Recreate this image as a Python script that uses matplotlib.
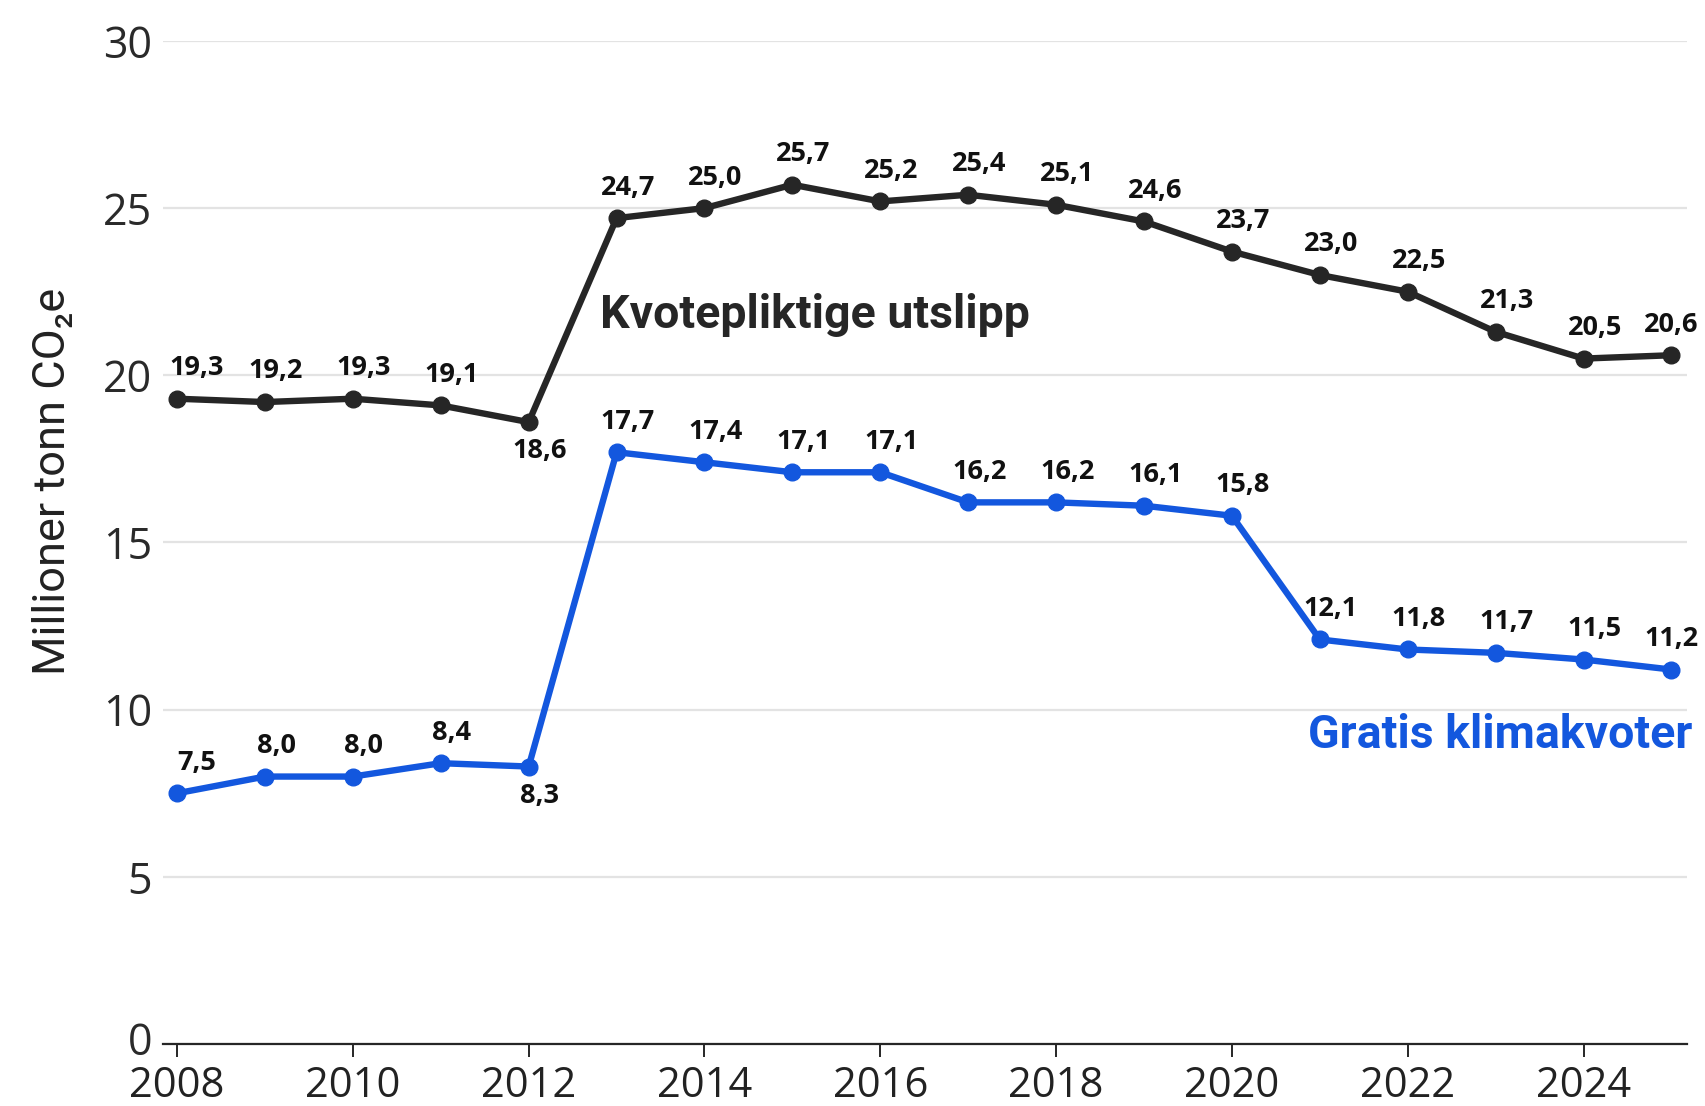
import numpy as np
import matplotlib.pyplot as plt
import matplotlib.transforms as mtransforms

# --- data ---
years = list(range(2008, 2026))
kvotepliktige = [19.3, 19.2, 19.3, 19.1, 18.6, 24.7, 25.0, 25.7, 25.2, 25.4,
                 25.1, 24.6, 23.7, 23.0, 22.5, 21.3, 20.5, 20.6]
gratis = [7.5, 8.0, 8.0, 8.4, 8.3, 17.7, 17.4, 17.1, 17.1, 16.2,
          16.2, 16.1, 15.8, 12.1, 11.8, 11.7, 11.5, 11.2]
y_ticks = [0, 5, 10, 15, 20, 25, 30]
x_ticks = list(range(2008, 2026, 2))

BLACK = '#262626'
BLUE = '#1357de'
FONT = 'Roboto'
TICKFONT = 'Open Sans'


def fmt(v):
    return f"{v:.1f}".replace('.', ',')


def label_points(ax, xs, ys, below=()):
    for i, (x, y) in enumerate(zip(xs, ys)):
        dx = 8
        if i == 0:
            dx = 14
        elif i == len(xs) - 1:
            dx = 0
        dy = -21 if x in below else 22
        ax.annotate(fmt(y), (x, y), xytext=(dx, dy), textcoords='offset points',
                    ha='center', va='center', fontsize=19.5, fontweight='bold',
                    family=TICKFONT, color='#111111', annotation_clip=False)


fig = plt.figure(figsize=(17.05, 11.06), dpi=100)
ax = fig.add_axes([0.0956, 0.056, 0.894, 0.907])

ax.plot(years, kvotepliktige, color=BLACK, lw=4.6, marker='o', ms=12, clip_on=False, zorder=3)
ax.plot(years, gratis, color=BLUE, lw=4.6, marker='o', ms=12, clip_on=False, zorder=3)

label_points(ax, years, kvotepliktige, below=(2012,))
label_points(ax, years, gratis, below=(2012,))

ax.text(2012.81, 21.8, 'Kvotepliktige utslipp', ha='left', va='center',
        fontsize=33.5, fontweight='bold', family=FONT, color=BLACK)
ax.text(2025.24, 9.24, 'Gratis klimakvoter', ha='right', va='center',
        fontsize=33.5, fontweight='bold', family=FONT, color=BLUE)

ax.set_xlim(2007.84, 2025.18)
ax.set_ylim(0, 30)
ax.set_yticks(y_ticks)
ax.set_xticks(x_ticks)
ax.grid(axis='y', color='#e3e3e3', lw=1.6)
ax.set_axisbelow(True)
for s in ['top', 'right', 'left']:
    ax.spines[s].set_visible(False)
ax.spines['bottom'].set_color(BLACK)
ax.spines['bottom'].set_linewidth(1.6)
ax.tick_params(axis='y', length=0, pad=8, labelsize=31, labelcolor='#2a2a2a')
ax.tick_params(axis='x', length=9, width=1.4, color=BLACK, pad=6, labelsize=30, labelcolor='#222222')
for lab in ax.get_xticklabels() + ax.get_yticklabels():
    lab.set_family(TICKFONT)

# nudge the "0" label up a touch so it clears the first year label
zero_lab = ax.get_yticklabels()[0]
zero_lab.set_transform(zero_lab.get_transform() +
                       mtransforms.ScaledTranslation(0, 4 / 72, fig.dpi_scale_trans))

fig.text(0.031, 0.565, 'Millioner tonn CO\u2082e', rotation=90, ha='center', va='center',
         fontsize=32.5, family=FONT, color='#222222')

fig.savefig('out.png', dpi=100, facecolor='white')
